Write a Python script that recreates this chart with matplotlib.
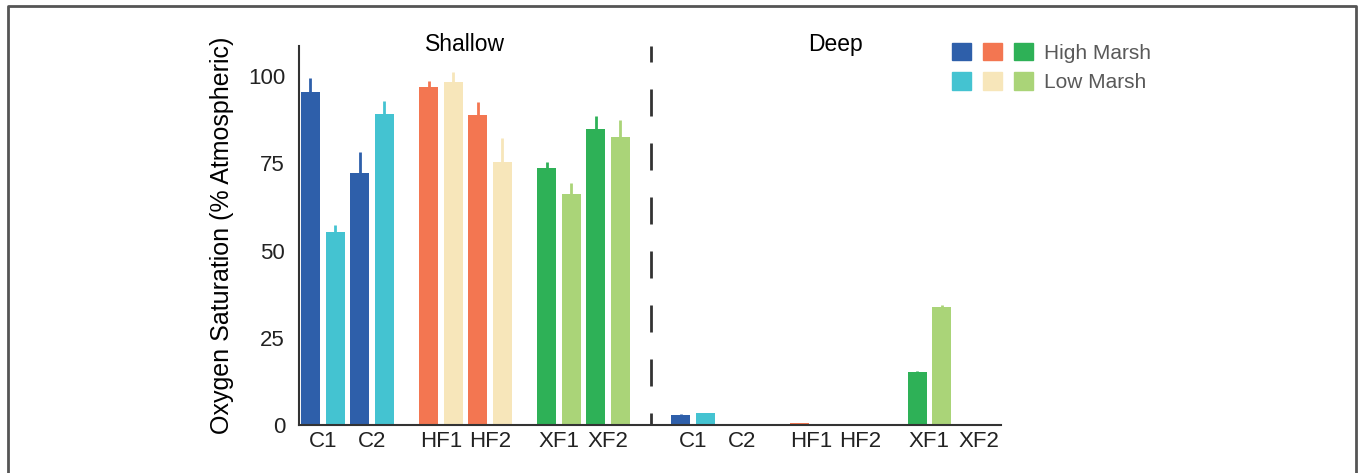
import matplotlib
matplotlib.use('Agg')
from matplotlib import pyplot as plt
from matplotlib.patches import Patch
from matplotlib.legend_handler import HandlerTuple
from matplotlib.lines import Line2D

plt.rcParams['font.family'] = ['Liberation Sans', 'DejaVu Sans']

# data
sites = ['C1', 'C2', 'HF1', 'HF2', 'XF1', 'XF2']
shallow_high = [95.5, 72.1, 96.9, 88.7, 73.6, 84.9]
shallow_high_err = [3.8, 6.2, 1.6, 3.9, 1.7, 3.6]
shallow_low = [55.4, 89.0, 98.2, 75.3, 66.3, 82.6]
shallow_low_err = [1.9, 3.9, 3.0, 7.0, 3.0, 4.9]
deep_high = [3.0, 0.0, 0.5, 0.3, 15.1, 0.4]
deep_high_err = [0.2, 0.0, 0.0, 0.0, 0.4, 0.0]
deep_low = [3.3, 0.0, 0.3, 0.0, 33.7, 0.0]
deep_low_err = [0.2, 0.0, 0.0, 0.0, 0.7, 0.0]

high_colors = ['#2E5FAA', '#F37651', '#2EB157']
low_colors = ['#44C3D1', '#F7E6BA', '#AAD478']

fig = plt.figure(figsize=(13.6, 4.73), dpi=100)
ax = fig.add_axes([299 / 1360, 1 - 425 / 473, 702 / 1360, 379 / 473])

group_step = 4.8
deep_shift = 15.06
bar_w = 0.77

tick_pos, tick_lab = [], []
for shift, hi, hi_e, lo, lo_e in [(0, shallow_high, shallow_high_err, shallow_low, shallow_low_err),
                                  (deep_shift, deep_high, deep_high_err, deep_low, deep_low_err)]:
    xh, xl, ch, cl = [], [], [], []
    for i in range(len(sites)):
        g, m = i // 2, i % 2
        x0 = shift + g * group_step + m * 2
        xh.append(x0)
        xl.append(x0 + 1)
        ch.append(high_colors[g])
        cl.append(low_colors[g])
        tick_pos.append(x0 + 0.5)
        tick_lab.append(sites[i])
    ax.bar(xh, hi, width=bar_w, color=ch, zorder=2)
    ax.bar(xl, lo, width=bar_w, color=cl, zorder=2)
    ax.vlines(xh, hi, [v + e for v, e in zip(hi, hi_e)], colors=ch, lw=2, zorder=1)
    ax.vlines(xl, lo, [v + e for v, e in zip(lo, lo_e)], colors=cl, lw=2, zorder=1)

# dashed separator
sep = (2 * group_step + 3 + deep_shift) / 2
ax.axvline(sep, color='#333333', lw=2, ls=(5.4, (9.72, 9.72)), zorder=3)

ax.text((2 * group_step + 3) / 2, 109, 'Shallow', ha='center', va='center', fontsize=16.5, clip_on=False)
ax.text(deep_shift + (2 * group_step + 3) / 2, 109, 'Deep', ha='center', va='center', fontsize=16.5, clip_on=False)

ax.set_xlim(-0.467, 28.07)
ax.set_ylim(0, 108.6)
ax.set_yticks([0, 25, 50, 75, 100])
ax.set_xticks(tick_pos)
ax.set_xticklabels(tick_lab)
ax.tick_params(axis='both', length=0, labelsize=16, colors='#222222')
ax.tick_params(axis='y', pad=10)
ax.tick_params(axis='x', pad=4)
ax.set_ylabel('Oxygen Saturation (% Atmospheric)', fontsize=18, labelpad=10)
for s in ['top', 'right']:
    ax.spines[s].set_visible(False)
for s in ['left', 'bottom']:
    ax.spines[s].set_color('#333333')
    ax.spines[s].set_linewidth(1.5)

# legend
hi_handles = tuple(Patch(color=c) for c in high_colors)
lo_handles = tuple(Patch(color=c) for c in low_colors)
leg = fig.legend([hi_handles, lo_handles], ['High Marsh', 'Low Marsh'],
                 handler_map={tuple: HandlerTuple(ndivide=None, pad=0.58)},
                 loc='upper left', bbox_to_anchor=(952 / 1360, 1 - 43 / 473),
                 frameon=False, fontsize=15, handlelength=3.9, handleheight=0.91,
                 handletextpad=0.5, labelspacing=0.45, borderpad=0, borderaxespad=0)
for t in leg.get_texts():
    t.set_color('#595959')

# outer frame
fx = [8 / 1360, 8 / 1360, 1356 / 1360, 1356 / 1360]
fy = [-0.01, 1 - 6 / 473, 1 - 6 / 473, -0.01]
fig.add_artist(Line2D(fx, fy, transform=fig.transFigure, color='#555555', lw=2))

fig.savefig('out.png', dpi=100)
